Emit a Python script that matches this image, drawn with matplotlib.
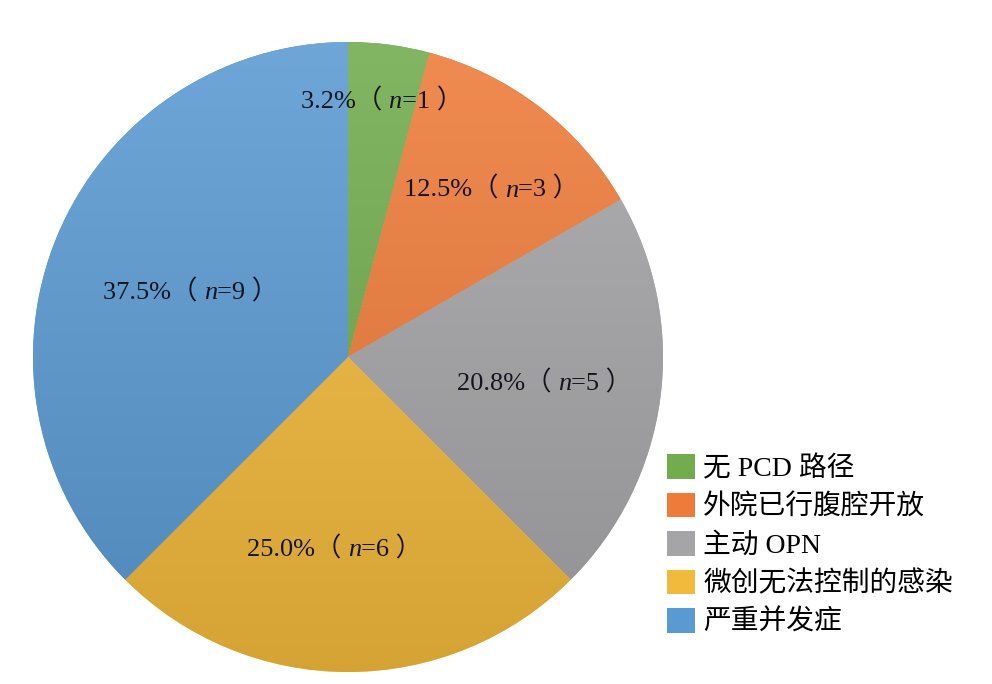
import numpy as np
import matplotlib
matplotlib.use("Agg")
import matplotlib.pyplot as plt
from matplotlib.colors import to_rgb
from matplotlib.patches import Patch
from matplotlib.offsetbox import TextArea, HPacker, AnnotationBbox

plt.rcParams['font.family'] = ['Liberation Serif', 'Noto Sans CJK SC']

# data
categories = ['无 PCD 路径', '外院已行腹腔开放', '主动 OPN', '微创无法控制的感染', '严重并发症']
counts = [1, 3, 5, 6, 9]
pct_labels = ['3.2%', '12.5%', '20.8%', '25.0%', '37.5%']
colors = ['#72AC4D', '#EE7B3A', '#A5A5A8', '#F2BA3C', '#5A9AD2']

# where each label sits along the wedge radius
label_r = [0.82, 0.70, 0.63, 0.61, 0.54]
label_shift = [0, -3, 0, -4, 0]   # degrees

fig = plt.figure(figsize=(9.92, 6.84), dpi=100)
R = 315
cx, cy = 348, 357
ax = fig.add_axes([(cx - R) / 992, (684 - cy - R) / 684, 2 * R / 992, 2 * R / 684])

wedges, _ = ax.pie(counts, colors=colors, startangle=90, counterclock=False,
                   radius=1, wedgeprops=dict(linewidth=0))
ax.set_xlim(-1, 1)
ax.set_ylim(-1, 1)
ax.set_aspect('equal')
ax.axis('off')

# vertical light-to-dark shading inside each wedge
grad = np.linspace(0, 1, 256)[:, None]
for w, c in zip(wedges, colors):
    base = np.array(to_rgb(c))
    top = base + (1 - base) * 0.12
    bot = base * 0.88
    img = top[None, None, :] * (1 - grad[:, :, None]) + bot[None, None, :] * grad[:, :, None]
    img = np.repeat(img, 2, axis=1)
    im = ax.imshow(img, extent=[-1, 1, -1, 1], origin='upper', zorder=w.get_zorder() + 0.1,
                   interpolation='bilinear')
    im.set_clip_path(w)

fs = 19
for w, p, n, r, s in zip(wedges, pct_labels, counts, label_r, label_shift):
    mid = np.deg2rad((w.theta1 + w.theta2) / 2 + s)
    x, y = r * np.cos(mid), r * np.sin(mid)
    parts = [
        TextArea(p + '（ ', textprops=dict(fontsize=fs, color='#151520')),
        TextArea('n', textprops=dict(fontsize=fs, style='italic', color='#151520')),
        TextArea('=' + str(n) + ' ）', textprops=dict(fontsize=fs, color='#151520')),
    ]
    box = HPacker(children=parts, pad=0, sep=0, align='baseline')
    ab = AnnotationBbox(box, (x, y), frameon=False, box_alignment=(0.5, 0.5), zorder=10)
    ax.add_artist(ab)

handles = [Patch(facecolor=c, edgecolor='none') for c in colors]
fig.legend(handles, categories, loc='upper left', bbox_to_anchor=(667 / 992, 1 - 454 / 684),
           frameon=False, fontsize=20, handlelength=1.0, handleheight=1.0,
           handletextpad=0.3, labelspacing=0.38, borderpad=0, borderaxespad=0)

fig.savefig('out.png', dpi=100)
